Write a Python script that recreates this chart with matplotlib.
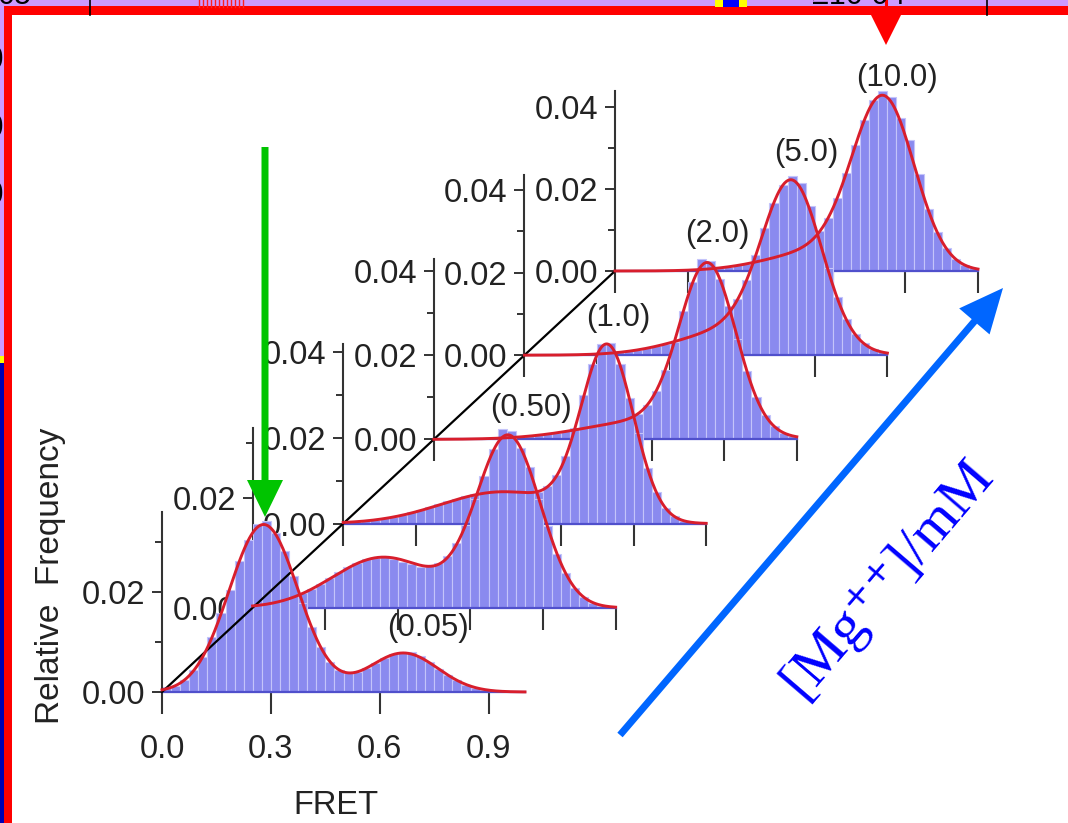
import numpy as np
import matplotlib
matplotlib.use("Agg")
import matplotlib.pyplot as plt
from matplotlib.patches import Rectangle, Polygon, FancyArrow
from matplotlib.lines import Line2D
from matplotlib.ticker import MultipleLocator, FixedLocator, FormatStrFormatter

plt.rcParams['font.family'] = ['Liberation Sans', 'DejaVu Sans']
plt.rcParams['mathtext.fontset'] = 'stix'

# ---------------- data ----------------
mg_conc_labels = ["(0.05)", "(0.50)", "(1.0)", "(2.0)", "(5.0)", "(10.0)"]
BIN_W = 0.025
fret_bin_edges = np.arange(0.0, 1.0, BIN_W)

freq_mg005 = [0.0010, 0.0013, 0.0025, 0.0044, 0.0070, 0.0110, 0.0158, 0.0205, 0.0262, 0.0305,
              0.0336, 0.0342, 0.0318, 0.0282, 0.0232, 0.0178, 0.0130, 0.0090, 0.0061, 0.0045,
              0.0039, 0.0040, 0.0048, 0.0058, 0.0068, 0.0076, 0.0079, 0.0080, 0.0072, 0.0060,
              0.0047, 0.0035, 0.0024, 0.0015, 0.0009, 0.0005, 0.0003, 0.0001, 0.0001, 0.0000]
freq_mg050 = [0.0005, 0.0007, 0.0010, 0.0014, 0.0019, 0.0027, 0.0035, 0.0044, 0.0055, 0.0066,
              0.0075, 0.0082, 0.0088, 0.0090, 0.0092, 0.0088, 0.0083, 0.0079, 0.0075, 0.0077,
              0.0081, 0.0094, 0.0118, 0.0150, 0.0198, 0.0240, 0.0288, 0.0325, 0.0322, 0.0290,
              0.0256, 0.0198, 0.0148, 0.0098, 0.0063, 0.0036, 0.0019, 0.0009, 0.0004, 0.0002]
freq_mg10 = [0.0003, 0.0005, 0.0007, 0.0009, 0.0012, 0.0016, 0.0020, 0.0026, 0.0031, 0.0038,
             0.0045, 0.0052, 0.0058, 0.0064, 0.0069, 0.0073, 0.0076, 0.0075, 0.0071, 0.0070,
             0.0069, 0.0074, 0.0088, 0.0112, 0.0157, 0.0222, 0.0298, 0.0372, 0.0418, 0.0420,
             0.0372, 0.0292, 0.0210, 0.0130, 0.0074, 0.0037, 0.0017, 0.0007, 0.0003, 0.0001]
freq_mg20 = [0.0000, 0.0000, 0.0001, 0.0001, 0.0001, 0.0002, 0.0002, 0.0003, 0.0004, 0.0006,
             0.0008, 0.0010, 0.0013, 0.0016, 0.0019, 0.0022, 0.0026, 0.0030, 0.0034, 0.0038,
             0.0043, 0.0050, 0.0061, 0.0082, 0.0115, 0.0166, 0.0232, 0.0306, 0.0375, 0.0430,
             0.0425, 0.0383, 0.0317, 0.0239, 0.0163, 0.0102, 0.0058, 0.0031, 0.0016, 0.0008]
freq_mg50 = [0.0000, 0.0000, 0.0000, 0.0000, 0.0001, 0.0001, 0.0002, 0.0002, 0.0004, 0.0005,
             0.0007, 0.0010, 0.0013, 0.0017, 0.0022, 0.0027, 0.0033, 0.0039, 0.0046, 0.0055,
             0.0065, 0.0079, 0.0101, 0.0136, 0.0183, 0.0242, 0.0309, 0.0370, 0.0413, 0.0435,
             0.0418, 0.0362, 0.0300, 0.0212, 0.0140, 0.0088, 0.0052, 0.0030, 0.0014, 0.0008]
freq_mg100 = [0.0000, 0.0000, 0.0000, 0.0000, 0.0000, 0.0001, 0.0001, 0.0002, 0.0003, 0.0004,
              0.0005, 0.0008, 0.0010, 0.0014, 0.0018, 0.0022, 0.0027, 0.0033, 0.0039, 0.0046,
              0.0056, 0.0071, 0.0095, 0.0130, 0.0179, 0.0239, 0.0307, 0.0369, 0.0418, 0.0440,
              0.0425, 0.0372, 0.0320, 0.0236, 0.0151, 0.0095, 0.0055, 0.0030, 0.0015, 0.0007]
freq_all = [freq_mg005, freq_mg050, freq_mg10, freq_mg20, freq_mg50, freq_mg100]

# two-Gaussian fit parameters (amplitude, centre, width) for each Mg++ concentration
fit_low_amp = [0.0335, 0.0092, 0.0074, 0.0045, 0.0065, 0.0050]
fit_low_cen = [0.280, 0.360, 0.440, 0.600, 0.600, 0.580]
fit_low_wid = [0.095, 0.140, 0.170, 0.180, 0.160, 0.150]
fit_high_amp = [0.0078, 0.0310, 0.0400, 0.0390, 0.0380, 0.0400]
fit_high_cen = [0.665, 0.705, 0.728, 0.755, 0.738, 0.740]
fit_high_wid = [0.095, 0.088, 0.072, 0.077, 0.082, 0.085]

x_ticks_front = [0.0, 0.3, 0.6, 0.9]
x_ticklabels_front = ["0.0", "0.3", "0.6", "0.9"]
x_ticks_back = [0.0, 0.2, 0.4, 0.6, 0.8, 1.0]

# ---------------- layout / style ----------------
W, H, DPI = 1068, 823, 100
ORIGIN_X0, ORIGIN_Y0 = 162.0, 692.0
STEP_X, STEP_Y = 90.6, -84.2
PANEL_W, PANEL_H = 363.0, 180.0
px_per_freq = [5000, 5500, 4300, 4200, 4125, 4100]

BAR_FACE = '#8a8aef'
BAR_EDGE = '#c4c4fa'
BASE_BLUE = '#5050cc'
AXIS_GRAY = '#333333'
FIT_RED = '#d81e2c'
TXT = '#222222'
FS = 23.5

fig = plt.figure(figsize=(W / DPI, H / DPI), dpi=DPI)
fig.patch.set_facecolor('white')


def origin(k):
    return ORIGIN_X0 + STEP_X * k, ORIGIN_Y0 + STEP_Y * k


def rect(k):
    ox, oy = origin(k)
    return [ox / W, 1 - oy / H, PANEL_W / W, PANEL_H / H]


def fit_curve(k, x):
    g1 = fit_low_amp[k] * np.exp(-(x - fit_low_cen[k]) ** 2 / (2 * fit_low_wid[k] ** 2))
    g2 = fit_high_amp[k] * np.exp(-(x - fit_high_cen[k]) ** 2 / (2 * fit_high_wid[k] ** 2))
    return g1 + g2


# histogram panels, back to front
for k in reversed(range(6)):
    ax = fig.add_axes(rect(k))
    ax.set_zorder(1 + 0.01 * (6 - k))
    ax.patch.set_visible(False)
    ax.set_xlim(0, 1)
    ax.set_ylim(0, PANEL_H / px_per_freq[k])
    ax.bar(fret_bin_edges, freq_all[k], width=BIN_W, align='edge', color=BAR_FACE,
           edgecolor=BAR_EDGE, linewidth=0.8, clip_on=False, zorder=2)
    for s in ('top', 'right'):
        ax.spines[s].set_visible(False)
    ax.spines['left'].set_color(AXIS_GRAY)
    ax.spines['left'].set_linewidth(1.5)
    ax.spines['bottom'].set_color(BASE_BLUE)
    ax.spines['bottom'].set_linewidth(1.6)
    ax.yaxis.set_major_locator(MultipleLocator(0.02))
    ax.yaxis.set_minor_locator(MultipleLocator(0.01))
    ax.yaxis.set_major_formatter(FormatStrFormatter('%.2f'))
    ax.tick_params(axis='y', which='major', direction='out', length=7.5, width=1.4,
                   color=AXIS_GRAY, pad=4.5, labelsize=FS, labelcolor=TXT)
    ax.tick_params(axis='y', which='minor', direction='out', length=5, width=1.4,
                   color=AXIS_GRAY)
    if k == 0:
        ax.xaxis.set_major_locator(FixedLocator(x_ticks_front))
        ax.set_xticklabels(x_ticklabels_front)
        ax.tick_params(axis='x', direction='out', length=16, width=1.5, color=AXIS_GRAY,
                       pad=14, labelsize=FS, labelcolor=TXT)
        ax.set_xlabel('FRET', fontsize=FS, color=TXT)
        ax.xaxis.set_label_coords((336 - 162) / PANEL_W, (692 - 806) / PANEL_H)
        ax.set_ylabel('Relative  Frequency', fontsize=FS + 0.5, color=TXT)
        ax.yaxis.set_label_coords((50 - 162) / PANEL_W, (692 - 576) / PANEL_H)
        ax.xaxis.label.set_va('center')
        ax.yaxis.label.set_va('center')
    else:
        ax.xaxis.set_major_locator(FixedLocator(x_ticks_back))
        ax.tick_params(axis='x', direction='out', length=16, width=1.5, color=AXIS_GRAY,
                       labelbottom=False)

# diagonal through the panel origins
(x0, y0), (x5, y5) = origin(0), origin(5)
fig.add_artist(Line2D([x0 / W, x5 / W], [1 - y0 / H, 1 - y5 / H], transform=fig.transFigure,
                      color='black', lw=1.6, zorder=2))

# fitted curves on top
xf = np.linspace(0, 1, 400)
for k in reversed(range(6)):
    axc = fig.add_axes(rect(k))
    axc.set_zorder(3 + 0.01 * (6 - k))
    axc.set_axis_off()
    axc.set_xlim(0, 1)
    axc.set_ylim(0, PANEL_H / px_per_freq[k])
    axc.plot(xf, fit_curve(k, xf), color=FIT_RED, lw=2.1, clip_on=False)

# ---------------- overlay in pixel coordinates ----------------
ov = fig.add_axes([0, 0, 1, 1])
ov.set_zorder(10)
ov.set_xlim(0, W)
ov.set_ylim(H, 0)
ov.set_axis_off()
ov.patch.set_visible(False)

label_pos = [(428, 628), (531, 408), (618, 318), (717, 234), (806, 153), (897, 78)]
for lab, (lx, ly) in zip(mg_conc_labels, label_pos):
    ov.text(lx, ly, lab, fontsize=FS - 1, color=TXT, ha='center', va='center')

# green arrow
ov.add_patch(FancyArrow(265, 147, 0, 370, width=7, head_width=36, head_length=37,
                        length_includes_head=True, color='#00c400', lw=0))
# blue arrow
ov.add_patch(FancyArrow(620, 735, 383, -447, width=7, head_width=40, head_length=44,
                        length_includes_head=True, color='#0066ff', lw=0))
ov.text(888, 578, '[Mg\u207a\u207a]/mM', fontsize=42, color='#0000ff',
        family=['Liberation Serif', 'DejaVu Serif'],
        rotation=49.4, rotation_mode='anchor', ha='center', va='center')

# screenshot frame
PURPLE = '#cc99ff'
ov.add_patch(Rectangle((0, 0), W, 6, color=PURPLE, lw=0))
ov.add_patch(Rectangle((0, 0), 3.5, 356, color=PURPLE, lw=0))
ov.add_patch(Rectangle((0, 356), 3.5, 7, color='#ffff00', lw=0))
ov.add_patch(Rectangle((0, 363), 3.5, H - 363, color='#0000b4', lw=0))
ov.add_patch(Rectangle((3.5, 6), W, 9, color='#ff0000', lw=0))
for xl in (90, 987):
    ov.plot([xl, xl], [0, 15], color='black', lw=1.2)
for xs in np.arange(199, 246, 4):
    ov.plot([xs, xs], [0, 7], color='#ff2020', lw=1.0)
ov.add_patch(Rectangle((715, 0), 32, 7, color='#ffff00', lw=0))
ov.add_patch(Rectangle((723, 0), 16, 7, color='#0000ff', lw=0))
ov.plot([886, 886], [0, 15], color='#ff0000', lw=2.2)
ov.add_patch(Polygon([(871, 15), (901, 15), (886, 45)], closed=True, color='#ff0000', lw=0))
ov.text(-2, 4, '05', fontsize=22, color='black', ha='left', va='baseline')
ov.text(812, 4, '\u226510 04', fontsize=22, color='black', ha='left', va='baseline')
for gy in (60, 128, 195):
    ov.text(3.5, gy, '0', fontsize=24, color='black', ha='right', va='center')
# red frame bar over the cut glyphs
ov.add_patch(Rectangle((3.5, 6), 8, H, color='#ff0000', lw=0, zorder=5))

fig.savefig('out.png', dpi=DPI)
